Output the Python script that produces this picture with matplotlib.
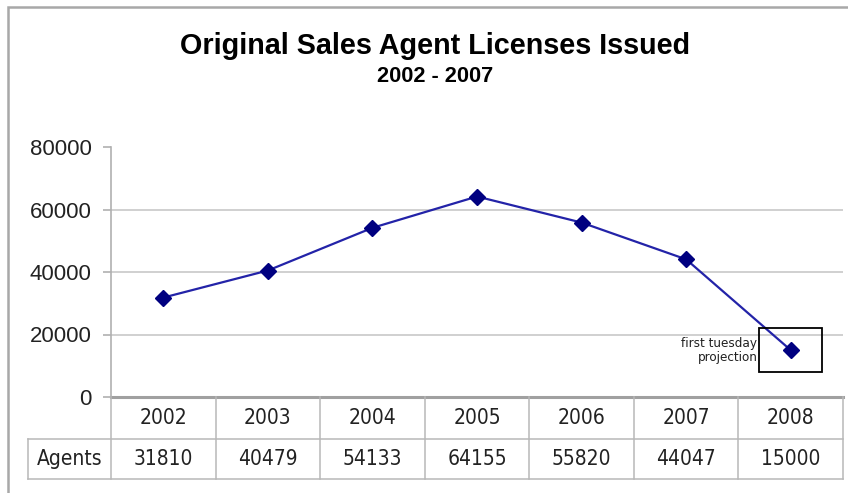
import matplotlib
matplotlib.use("Agg")
import matplotlib.pyplot as plt
from matplotlib.patches import Rectangle

years = ["2002", "2003", "2004", "2005", "2006", "2007", "2008"]
agents = [31810, 40479, 54133, 64155, 55820, 44047, 15000]
yticks = [0, 20000, 40000, 60000, 80000]
row_label = "Agents"
note = "first tuesday\nprojection"

W, H = 848, 493
fig = plt.figure(figsize=(W / 100, H / 100), dpi=100)

# outer chart border
fig.add_artist(Rectangle((8 / W, -0.1), 1.2, 1 - 7 / H + 0.1, transform=fig.transFigure,
                         fill=False, edgecolor="#a8a8a8", linewidth=1.8))

# plot area in pixels: x 111..843, y 147..397
ax = fig.add_axes([111 / W, 1 - 397 / H, 732 / W, 250 / H])
x = list(range(len(years)))
ax.set_xlim(-0.5, len(years) - 0.5)
ax.set_ylim(0, 80000)

for s in ["top", "right", "bottom"]:
    ax.spines[s].set_visible(False)
ax.spines["left"].set_color("#b0b0b0")
ax.spines["left"].set_linewidth(1.2)

ax.set_yticks(yticks)
ax.set_yticklabels([str(v) for v in yticks], fontsize=16, family="Liberation Sans")
ax.tick_params(axis="y", length=6, color="#b0b0b0", width=1.2, pad=8, labelcolor="#222222")
ax.set_xticks([])
for v in yticks[1:-1]:
    ax.axhline(v, color="#c8c8c8", linewidth=1.2, zorder=0)
ax.axhline(0, color="#a0a0a0", linewidth=2.2, clip_on=False, zorder=1)

ax.plot(x, agents, color="#2323a8", linewidth=1.6, marker="D", markersize=8,
        markerfacecolor="#000080", markeredgecolor="#000080", zorder=3)

# projection box around the last point
bw, bh = 0.6, 14000
ax.add_patch(Rectangle((x[-1] - bw / 2, agents[-1] - bh / 2), bw, bh, fill=False,
                       edgecolor="black", linewidth=1.3, zorder=4))
ax.text(x[-1] - bw / 2 - 0.02, agents[-1], note, ha="right", va="center",
        fontsize=9.6, family="DejaVu Sans", fontstretch="condensed",
        linespacing=1.1, color="#202020")

# data table under the axis
tr = ax.get_xaxis_transform()
r1, r2 = -42 / 250, -82 / 250
grid_c = "#b8b8b8"
left_lab = -0.5 - 83 / 104.6
for i in range(len(years) + 1):
    ax.plot([i - 0.5, i - 0.5], [0, r2], transform=tr, color=grid_c, lw=1.1, clip_on=False)
ax.plot([left_lab, left_lab], [r1, r2], transform=tr, color=grid_c, lw=1.1, clip_on=False)
ax.plot([left_lab, len(years) - 0.5], [r1, r1], transform=tr, color=grid_c, lw=1.1, clip_on=False)
ax.plot([left_lab, len(years) - 0.5], [r2, r2], transform=tr, color=grid_c, lw=1.1, clip_on=False)

tfont = dict(fontsize=15, family="DejaVu Sans", fontstretch="condensed", color="#222222",
             ha="center", va="center", clip_on=False)
for i, (yr, v) in enumerate(zip(years, agents)):
    ax.text(i, r1 / 2, yr, transform=tr, **tfont)
    ax.text(i, (r1 + r2) / 2, str(v), transform=tr, **tfont)
ax.text((left_lab - 0.5) / 2, (r1 + r2) / 2, row_label, transform=tr, **tfont)

fig.text(435 / W, 1 - 46 / H, "Original Sales Agent Licenses Issued", ha="center", va="center",
         fontsize=20.7, fontweight="bold", family="Liberation Sans")
fig.text(435 / W, 1 - 76 / H, "2002 - 2007", ha="center", va="center",
         fontsize=15.7, fontweight="bold", family="Liberation Sans")

fig.savefig("out.png", dpi=100)
